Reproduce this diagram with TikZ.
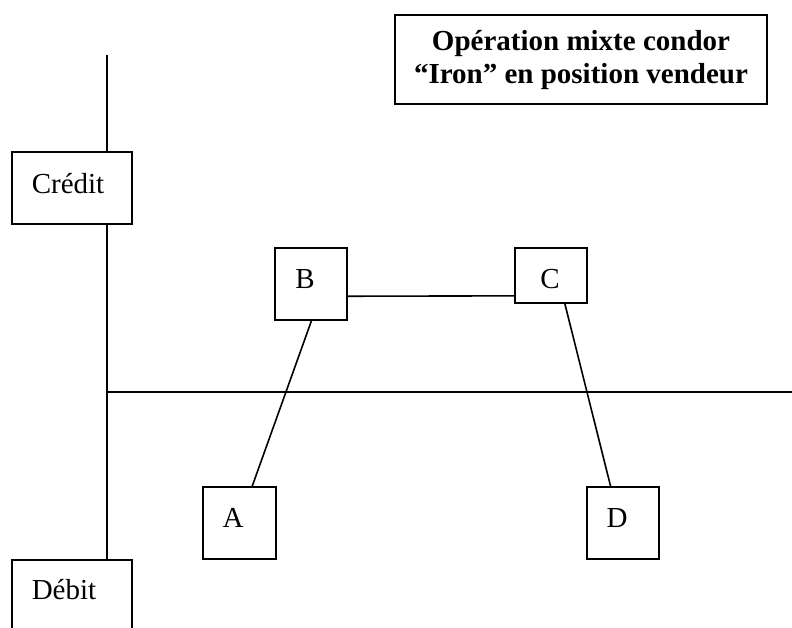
\documentclass[tikz,border=0pt]{standalone}
\usepackage{fontspec}
\setmainfont{Liberation Serif}
\usetikzlibrary{calc}
\begin{document}
\begin{tikzpicture}[x=1pt,y=-1pt,
  box/.style={draw=black,line width=1.6pt,fill=white,inner sep=0pt,outer sep=0pt,anchor=north west},
  lbl/.style={inner sep=0pt,font=\fontsize{29}{33}\selectfont},
  conn/.style={draw=black,line width=1.6pt}]
\clip (0,0) rectangle (792,628);
\useasboundingbox (0,0) rectangle (792,628);
% axes
\coordinate (vtop) at (107,55);
\coordinate (hleft) at (107,392);
\coordinate (hright) at (792,392);
\draw[conn] (vtop) -- (107,560);
\draw[conn] (hleft) -- (hright);
% title
\node[box,minimum width=372pt,minimum height=89pt] (T) at (395,15) {};
\node[inner sep=0pt,align=center,font=\fontsize{29}{33}\selectfont\bfseries] (Ttxt) at (581,60) {Opération mixte condor\\“Iron” en position vendeur};
% Credit / Debit
\node[box,minimum width=120pt,minimum height=72pt] (Cr) at (12,152) {};
\node[lbl] (Crtxt) at (68,184) {Crédit};
\node[box,minimum width=120pt,minimum height=100pt] (De) at (12,560) {};
\node[lbl] (Detxt) at (64,590) {Débit};
% letter boxes
\node[box,minimum width=72pt,minimum height=72pt] (B) at (275,248) {};
\node[lbl] (Btxt) at (305,279) {B};
\node[box,minimum width=72pt,minimum height=55pt] (C) at (515,248) {};
\node[lbl] (Ctxt) at (550,279) {C};
\node[box,minimum width=73pt,minimum height=72pt] (A) at (203,487) {};
\node[lbl] (Atxt) at (233,518) {A};
\node[box,minimum width=72pt,minimum height=72pt] (D) at (587,487) {};
\node[lbl] (Dtxt) at (617,518) {D};
% connectors
\draw[conn] ($(B.north east)!0.67!(B.south east)$) -- ($(C.north west)!0.87!(C.south west)$);
\draw[conn] ($(B.south west)!0.51!(B.south east)$) -- ($(A.north west)!0.67!(A.north east)$);
\draw[conn] ($(C.south west)!0.69!(C.south east)$) -- ($(D.north west)!0.33!(D.north east)$);
\end{tikzpicture}
\end{document}
